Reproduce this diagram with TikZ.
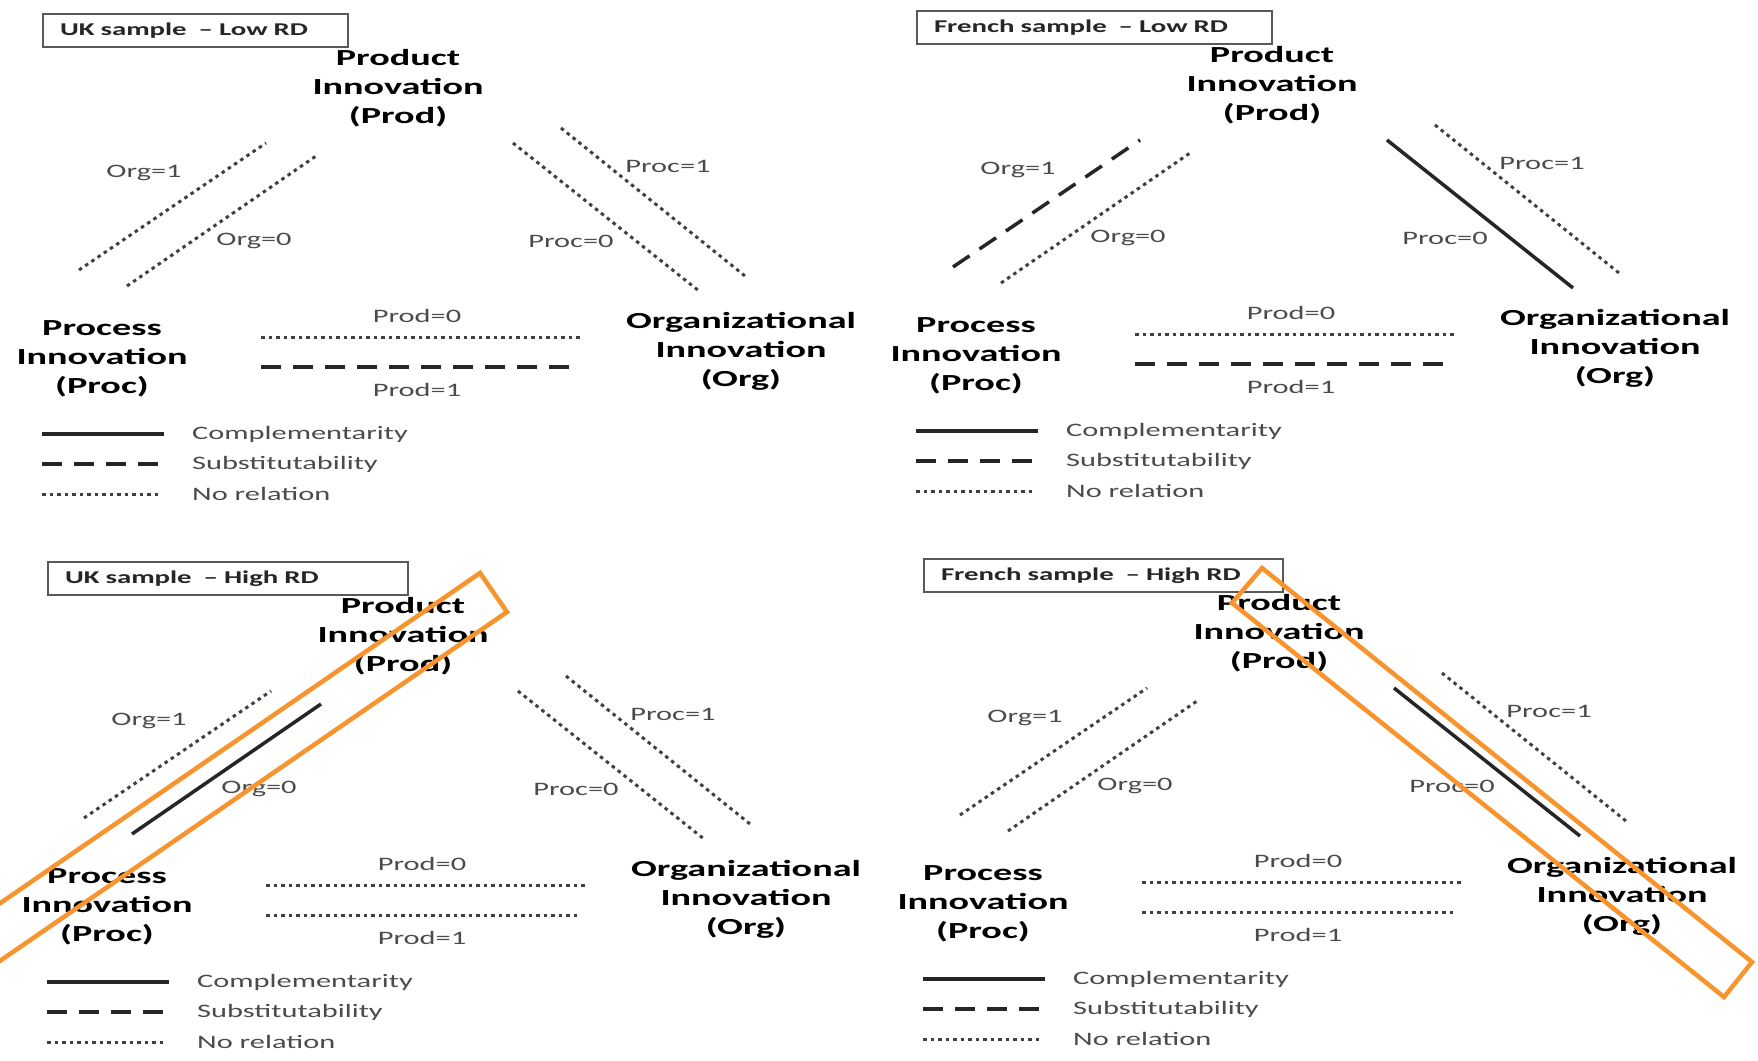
\documentclass[tikz,border=0pt]{standalone}
\usepackage{fontspec}
\newfontfamily\calib[FakeStretch=1.6]{Carlito}
\newfontfamily\calibwide[FakeStretch=1.66]{Carlito}
\definecolor{hilite}{RGB}{247,148,45}
\definecolor{labelgrey}{RGB}{75,75,75}
\tikzset{
  compl/.style={line width=3.5pt, black!85},
  subst/.style={line width=3.5pt, black!85, dash pattern=on 20pt off 12pt},
  norel/.style={line width=3pt, black!75, dash pattern=on 3.5pt off 4pt},
  bignode/.style={font=\calibwide\bfseries\fontsize{23}{29}\selectfont, align=center, inner sep=0pt, text=black},
  lbl/.style={font=\calib\fontsize{19}{22}\selectfont, inner sep=0pt, text=labelgrey},
  legtext/.style={lbl, anchor=west},
  titlebox/.style={draw=black!65, line width=2pt, font=\calib\bfseries\fontsize{18}{20}\selectfont,
    text=black!85, inner xsep=17pt, inner ysep=0pt, minimum height=33pt, align=left, anchor=north west},
  hiliteframe/.style={draw=hilite, line width=4.5pt, line join=miter},
}
% One triangle of innovation types with its title box and legend.
% #1 title, #2 title text width, #3 Org=1, #4 Org=0, #5 Proc=1, #6 Proc=0, #7 Prod=0, #8 Prod=1
\newcommand\drawpanel[8]{%
  \node[titlebox, text width=#2pt] (title) at (42,13) {#1};
  \node[bignode] (prod) at (398,88) {Product\\Innovation\\(Prod)};
  \node[bignode] (proc) at (102,359) {Process\\Innovation\\(Proc)};
  \node[bignode] (org) at (741,351) {Organizational\\Innovation\\(Org)};
  % Prod -- Proc side
  \coordinate (o1a) at (79,270);  \coordinate (o1b) at (266,143);
  \coordinate (o0a) at (127,286); \coordinate (o0b) at (316,156);
  \draw[#3] (o1a) -- (o1b);
  \draw[#4] (o0a) -- (o0b);
  \node[lbl] (lo1) at (144,173) {Org=1};
  \node[lbl] (lo0) at (254,241) {Org=0};
  % Prod -- Org side
  \coordinate (p1a) at (561,128); \coordinate (p1b) at (745,276);
  \coordinate (p0a) at (513,143); \coordinate (p0b) at (699,291);
  \draw[#5] (p1a) -- (p1b);
  \draw[#6] (p0a) -- (p0b);
  \node[lbl] (lp1) at (668,166) {Proc=1};
  \node[lbl] (lp0) at (571,241) {Proc=0};
  % Proc -- Org side
  \coordinate (d0a) at (261,337); \coordinate (d0b) at (581,337);
  \coordinate (d1a) at (261,367); \coordinate (d1b) at (574,367);
  \draw[#7] (d0a) -- (d0b);
  \draw[#8] (d1a) -- (d1b);
  \node[lbl] (ld0) at (417,316) {Prod=0};
  \node[lbl] (ld1) at (417,390) {Prod=1};
  % legend
  \coordinate (g1a) at (42,434); \coordinate (g1b) at (164,434);
  \coordinate (g2a) at (42,464); \coordinate (g2b) at (164,464);
  \coordinate (g3a) at (42,494); \coordinate (g3b) at (160,494);
  \draw[compl] (g1a) -- (g1b);
  \draw[subst] (g2a) -- (g2b);
  \draw[norel] (g3a) -- (g3b);
  \node[legtext] (t1) at (192,434) {Complementarity};
  \node[legtext] (t2) at (192,464) {Substitutability};
  \node[legtext] (t3) at (192,494) {No relation};
}
\begin{document}
\begin{tikzpicture}[x=1pt,y=-1pt]
\useasboundingbox (0,0) rectangle (1758,1060);
\fill[white] (0,0) rectangle (1758,1060);

\begin{scope}[name prefix=ukl-]
  \drawpanel{UK sample\ \ – Low RD}{271}{norel}{norel}{norel}{norel}{norel}{subst}
\end{scope}
\begin{scope}[shift={(874,-3)}, name prefix=frl-]
  \drawpanel{French sample\ \ – Low RD}{321}{subst}{norel}{norel}{compl}{norel}{subst}
\end{scope}
\begin{scope}[shift={(5,548)}, name prefix=ukh-]
  \drawpanel{UK sample\ \ – High RD}{326}{norel}{compl}{norel}{norel}{norel}{norel}
\end{scope}
\begin{scope}[shift={(881,545)}, name prefix=frh-]
  \drawpanel{French sample\ \ – High RD}{325}{norel}{norel}{norel}{compl}{norel}{norel}
\end{scope}

% highlight frames
\begin{scope}
  \clip (0,0) rectangle (1758,1060);
  \coordinate (ha) at (480,573);  \coordinate (hb) at (507,612);
  \coordinate (hc) at (-317,1179); \coordinate (hd) at (-344,1140);
  \draw[hiliteframe] (ha) -- (hb) -- (hc) -- (hd) -- cycle;
  \coordinate (ka) at (1262,568); \coordinate (kb) at (1752,962);
  \coordinate (kc) at (1724,997); \coordinate (kd) at (1232,603);
  \draw[hiliteframe] (ka) -- (kb) -- (kc) -- (kd) -- cycle;
\end{scope}
\end{tikzpicture}
\end{document}
